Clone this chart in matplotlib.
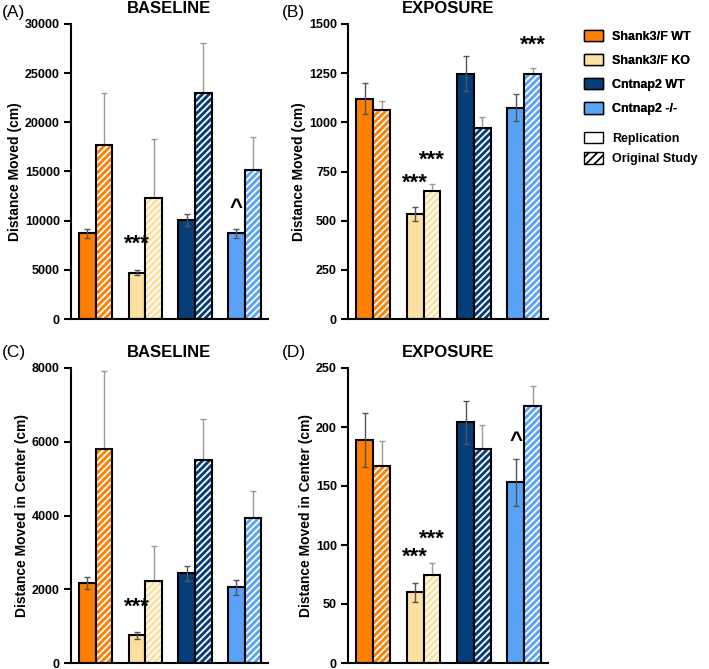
import numpy as np
import matplotlib.pyplot as plt
from matplotlib.patches import Patch

plt.rcParams['font.family'] = ['Liberation Sans', 'DejaVu Sans']
plt.rcParams['hatch.linewidth'] = 1.3

groups = ['Shank3/F WT', 'Shank3/F KO', 'Cntnap2 WT', 'Cntnap2 -/-']
colors = ['#ff7f00', '#fbe0a2', '#063e7a', '#58a3f5']

# panel A: baseline distance moved
a_rep = [8700, 4700, 10100, 8700]
a_rep_err = [500, 250, 600, 500]
a_orig = [17700, 12300, 23000, 15200]
a_orig_err = [5300, 6000, 5100, 3300]

# panel B: exposure distance moved
b_rep = [1120, 535, 1248, 1075]
b_rep_err = [78, 37, 90, 70]
b_orig = [1065, 652, 972, 1248]
b_orig_err = [43, 34, 56, 27]

# panel C: baseline distance in center
c_rep = [2170, 750, 2430, 2050]
c_rep_err = [160, 100, 200, 200]
c_orig = [5800, 2230, 5500, 3930]
c_orig_err = [2120, 940, 1130, 730]

# panel D: exposure distance in center
d_rep = [189, 60, 204, 153]
d_rep_err = [23, 8, 18, 20]
d_orig = [167, 75, 181, 218]
d_orig_err = [21, 10, 21, 17]

panels = [
    ('(A)', 'BASELINE', 'Distance Moved (cm)', a_rep, a_rep_err, a_orig, a_orig_err,
     30000, 5000, [(1, 0, '***', 6500), (3, 0, '^', 10200)]),
    ('(B)', 'EXPOSURE', 'Distance Moved (cm)', b_rep, b_rep_err, b_orig, b_orig_err,
     1500, 250, [(1, 0, '***', 635), (1, 1, '***', 752), (3, 1, '***', 1340)]),
    ('(C)', 'BASELINE', 'Distance Moved in Center (cm)', c_rep, c_rep_err, c_orig, c_orig_err,
     8000, 2000, [(1, 0, '***', 1230)]),
    ('(D)', 'EXPOSURE', 'Distance Moved in Center (cm)', d_rep, d_rep_err, d_orig, d_orig_err,
     250, 50, [(1, 0, '***', 81), (1, 1, '***', 96), (3, 0, '^', 179)]),
]

fig = plt.figure(figsize=(7.09, 6.69), dpi=100)
W, H = 709, 669
boxes = [(71, 24, 197, 295), (348, 24, 200, 295), (71, 368, 197, 295), (348, 368, 200, 295)]
tag_pos = [(2, 12), (282, 12), (2, 352), (282, 352)]

w = 0.335
x = np.arange(4)
for (tag, title, ylabel, rep, rep_err, orig, orig_err, ymax, step, marks), (l, t, bw, bh), (tx, ty) in zip(panels, boxes, tag_pos):
    ax = fig.add_axes([l / W, 1 - (t + bh) / H, bw / W, bh / H])
    ax.bar(x - w / 2, rep, w, color=colors, edgecolor='black', linewidth=1.5, zorder=2)
    ax.errorbar(x - w / 2, rep, yerr=rep_err, fmt='none', ecolor='#555555', elinewidth=1,
                capsize=2.5, capthick=1, zorder=3)
    ax.errorbar(x + w / 2, orig, yerr=orig_err, fmt='none', ecolor='#999999', elinewidth=1,
                capsize=2.5, capthick=1, zorder=1.5)
    ax.bar(x + w / 2, orig, w, color=colors, edgecolor='white', hatch='/////', linewidth=0, zorder=2)
    ax.bar(x + w / 2, orig, w, fill=False, edgecolor='black', linewidth=1.5, zorder=2.5)
    for gi, side, txt, yv in marks:
        xp = gi - w / 2 if side == 0 else gi + w / 2
        ax.text(xp, yv, txt, ha='center', va='bottom', fontsize=16, fontweight='bold')
    ax.set_xlim(-0.5, 3.47)
    ax.set_ylim(0, ymax)
    ax.set_yticks(np.arange(0, ymax + 1, step))
    ax.set_xticks([])
    for s in ['top', 'right']:
        ax.spines[s].set_visible(False)
    for s in ['left', 'bottom']:
        ax.spines[s].set_linewidth(1.5)
    ax.tick_params(axis='y', width=1.5, length=5, labelsize=9, pad=3)
    for lab in ax.get_yticklabels():
        lab.set_fontweight('bold')
    ax.set_ylabel(ylabel, fontsize=10, fontweight='bold', labelpad=2)
    ax.set_title(title, fontsize=12, fontweight='bold', pad=8)
    fig.text(tx / W, 1 - ty / H, tag, fontsize=12.5, va='center', ha='left')

leg_font = {'weight': 'bold', 'size': 9}
handles1 = [Patch(facecolor=c, edgecolor='black', linewidth=1) for c in colors]
leg1 = fig.legend(handles1, groups, loc='upper left', bbox_to_anchor=(584 / W, 1 - 30 / H),
                  frameon=False, prop=leg_font, handlelength=1.5, handleheight=1.0,
                  labelspacing=0.9, handletextpad=0.75, borderpad=0, borderaxespad=0)
fig.add_artist(leg1)
handles2 = [Patch(facecolor='white', edgecolor='black', linewidth=1),
            Patch(facecolor='white', edgecolor='black', hatch='////', linewidth=1)]
fig.legend(handles2, ['Replication', 'Original Study'], loc='upper left',
           bbox_to_anchor=(584 / W, 1 - 132 / H), frameon=False, prop=leg_font,
           handlelength=1.5, handleheight=1.0, labelspacing=0.6, handletextpad=0.75,
           borderpad=0, borderaxespad=0)

fig.savefig('out.png', dpi=100)
